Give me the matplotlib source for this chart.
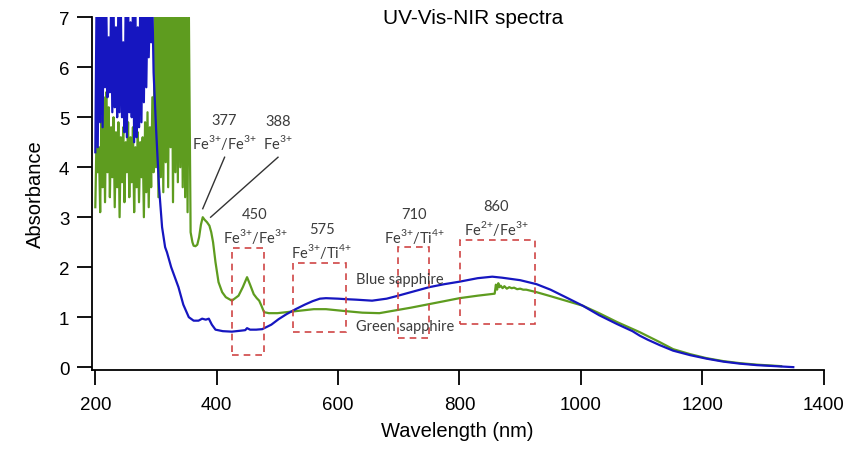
import matplotlib
matplotlib.use("Agg")
import matplotlib.pyplot as plt
from matplotlib.patches import Rectangle

plt.rcParams["font.family"] = ["Liberation Sans", "DejaVu Sans"]
plt.rcParams["mathtext.fontset"] = "custom"
plt.rcParams["mathtext.rm"] = "Lato"

# ── data: blue sapphire ───────────────────────────────────────────────────────
blue_nm = [200, 202, 204, 206, 208, 210, 212, 214, 216, 218, 220, 222, 224, 226,
           228, 230, 232, 234, 236, 238, 240, 242, 244, 246, 248, 250, 252, 254,
           256, 258, 260, 262, 264, 266, 268, 270, 272, 274, 276, 278, 280, 282,
           284, 286, 288, 290, 292, 294, 296,
           300, 305, 310, 315, 318, 325, 337, 345, 354, 362, 370, 376, 382, 387,
           392, 398, 410, 425, 440, 447, 450, 455, 465, 475, 490, 502, 515, 530,
           545, 558, 570, 580, 600, 613, 630, 656, 680, 696, 720, 750, 775, 800,
           830, 854, 870, 900, 927, 950, 975, 1003, 1030, 1060, 1085, 1097, 1110,
           1130, 1152, 1180, 1207, 1235, 1262, 1290, 1320, 1350]
blue_abs = [4.3, 7.3, 4.4, 7.3, 4.9, 7.3, 4.8, 7.3, 5.6, 7.3, 5.4, 6.6, 5.5, 7.3,
            5.1, 7.3, 5.2, 6.8, 5.0, 7.3, 5.1, 7.3, 5.0, 6.5, 4.7, 7.3, 4.6, 7.3,
            5.1, 6.9, 5.0, 7.3, 4.5, 7.3, 4.6, 6.8, 4.8, 7.3, 4.9, 7.3, 5.3, 7.3,
            5.6, 7.3, 6.2, 7.3, 6.5, 7.3, 5.9,
            4.8, 3.6, 2.8, 2.4, 2.3, 2.0, 1.6, 1.25, 1.0, 0.93, 0.93, 0.97, 0.95, 0.97,
            0.85, 0.75, 0.72, 0.71, 0.73, 0.74, 0.78, 0.75, 0.75, 0.76, 0.85, 0.96, 1.06, 1.16,
            1.25, 1.32, 1.37, 1.38, 1.37, 1.36, 1.35, 1.33, 1.37, 1.42, 1.5, 1.6, 1.66, 1.71,
            1.78, 1.81, 1.79, 1.74, 1.66, 1.55, 1.40, 1.23, 1.04, 0.86, 0.72, 0.63, 0.55,
            0.44, 0.33, 0.24, 0.17, 0.11, 0.07, 0.04, 0.02, 0.0]

# ── data: green sapphire ──────────────────────────────────────────────────────
green_nm = [200, 202, 204, 206, 208, 210, 212, 214, 216, 218, 220, 222, 224, 226,
            228, 230, 232, 234, 236, 238, 240, 242, 244, 246, 248, 250, 252, 254,
            256, 258, 260, 262, 264, 266, 268, 270, 272, 274, 276, 278, 280, 282,
            284, 286, 288, 290, 292, 294, 296, 298, 300, 302, 304, 306, 308, 310,
            312, 314, 316, 318, 320, 322, 324, 326, 328, 330, 332, 334, 336, 338,
            340, 342, 344, 346, 348, 350, 352, 354,
            357, 360, 362, 365, 368, 371, 374, 377, 380, 384, 388, 391, 394, 398,
            403, 409, 415, 425, 436, 443, 450, 455, 461, 466, 470, 474, 478, 486,
            500, 530, 560, 580, 613, 640, 668, 696, 720, 750, 775, 800, 830, 858,
            860, 862, 864, 866, 868, 871, 874, 878, 882, 886, 890, 895, 900, 905,
            910, 920, 927, 950, 975, 1003, 1030, 1060, 1097, 1130, 1152, 1180, 1207,
            1235, 1262, 1290, 1330]
green_abs = [3.2, 4.6, 3.9, 4.4, 3.1, 5.0, 3.6, 5.4, 3.3, 5.5, 3.9, 5.2, 3.4, 4.8,
             3.8, 5.0, 3.2, 4.7, 3.6, 4.9, 3.0, 4.6, 3.7, 4.8, 3.3, 4.5, 3.9, 4.9,
             3.4, 4.6, 3.7, 4.8, 3.1, 4.4, 3.6, 4.7, 3.3, 4.5, 3.8, 4.6, 3.0, 4.9,
             3.5, 5.1, 3.2, 4.8, 3.6, 5.4, 3.9, 7.3, 4.0, 7.3, 3.4, 7.3, 3.8, 7.3,
             3.5, 7.3, 4.1, 7.3, 3.6, 7.3, 4.4, 7.3, 3.3, 7.3, 3.9, 7.3, 3.7, 7.3,
             4.0, 7.3, 3.6, 7.3, 3.4, 7.3, 3.1, 7.3,
             2.7, 2.5, 2.43, 2.42, 2.45, 2.6, 2.85, 3.0, 2.95, 2.9, 2.83, 2.7, 2.5, 2.1,
             1.7, 1.5, 1.4, 1.33, 1.43, 1.6, 1.8, 1.65, 1.46, 1.38, 1.33, 1.22, 1.1, 1.08,
             1.08, 1.12, 1.16, 1.16, 1.12, 1.09, 1.08, 1.14, 1.19, 1.26, 1.32, 1.38, 1.43, 1.47,
             1.65, 1.55, 1.68, 1.6, 1.63, 1.58, 1.62, 1.57, 1.6, 1.58, 1.59, 1.56, 1.57, 1.55,
             1.55, 1.52, 1.50, 1.42, 1.33, 1.23, 1.08, 0.9, 0.70, 0.50, 0.36, 0.26, 0.18,
             0.12, 0.08, 0.05, 0.02]

# ── annotations ──────────────────────────────────────────────────────────────
peak_labels = ["377\nFe$^{\\mathregular{3{+}}}$/Fe$^{\\mathregular{3{+}}}$",
               "388\nFe$^{\\mathregular{3{+}}}$",
               "450\nFe$^{\\mathregular{3{+}}}$/Fe$^{\\mathregular{3{+}}}$",
               "575\nFe$^{\\mathregular{3{+}}}$/Ti$^{\\mathregular{4{+}}}$",
               "710\nFe$^{\\mathregular{3{+}}}$/Ti$^{\\mathregular{4{+}}}$",
               "860\nFe$^{\\mathregular{2{+}}}$/Fe$^{\\mathregular{3{+}}}$"]
label_x = [412, 501, 463, 573, 725, 860]
label_y = [4.70, 4.70, 2.82, 2.52, 2.82, 2.99]

# leader lines: (x0, y0, x1, y1)
leaders = [(413, 4.2, 377, 3.17), (501, 4.2, 390, 3.0)]

# dashed boxes: (x0, x1, y0, y1)
boxes = [(425, 478, 0.24, 2.38), (526, 613, 0.70, 2.08),
         (699, 749, 0.58, 2.40), (801, 925, 0.86, 2.54)]

fig = plt.figure(figsize=(8.52, 4.52), dpi=100)
ax = fig.add_axes([0.1076, 0.18, 0.8591, 0.7795])

ax.plot(green_nm, green_abs, color="#5e9c1f", lw=1.6, zorder=2)
ax.plot(blue_nm, blue_abs, color="#1616c0", lw=1.6, zorder=3)

ax.set_xlim(194, 1400)
ax.set_ylim(-0.05, 7)
ax.set_xticks(range(200, 1401, 200))
ax.set_yticks(range(0, 8))

for s in ["top", "right"]:
    ax.spines[s].set_visible(False)
for s in ["left", "bottom"]:
    ax.spines[s].set_linewidth(1.3)
ax.tick_params(axis="both", direction="out", length=11, width=1.3,
               labelsize=13.5, colors="black")
ax.tick_params(axis="x", pad=8)
ax.tick_params(axis="y", pad=5)

ax.set_xlabel("Wavelength (nm)", fontsize=14.5, labelpad=6)
ax.set_ylabel("Absorbance", fontsize=14.5, labelpad=10)
fig.text(473.5 / 852, 1 - 18 / 452, "UV-Vis-NIR spectra", fontsize=15,
         ha="center", va="center")

for txt, x, y in zip(peak_labels, label_x, label_y):
    ax.text(x, y, txt, ha="center", va="center", fontsize=10.5,
            family="Lato", color="#3c3c3c", linespacing=1.3)

for x0, y0, x1, y1 in leaders:
    ax.plot([x0, x1], [y0, y1], color="#333333", lw=1.0)

for x0, x1, y0, y1 in boxes:
    ax.add_patch(Rectangle((x0, y0), x1 - x0, y1 - y0, fill=False,
                           edgecolor="#d04545", lw=1.2, linestyle=(0, (4, 3)),
                           zorder=4))

ax.text(630, 1.77, "Blue sapphire", fontsize=10.5, family="Lato",
        color="#3c3c3c", va="center", zorder=5)
ax.text(630, 0.83, "Green sapphire", fontsize=10.5, family="Lato",
        color="#3c3c3c", va="center", zorder=5)

fig.savefig("out.png", dpi=100)
